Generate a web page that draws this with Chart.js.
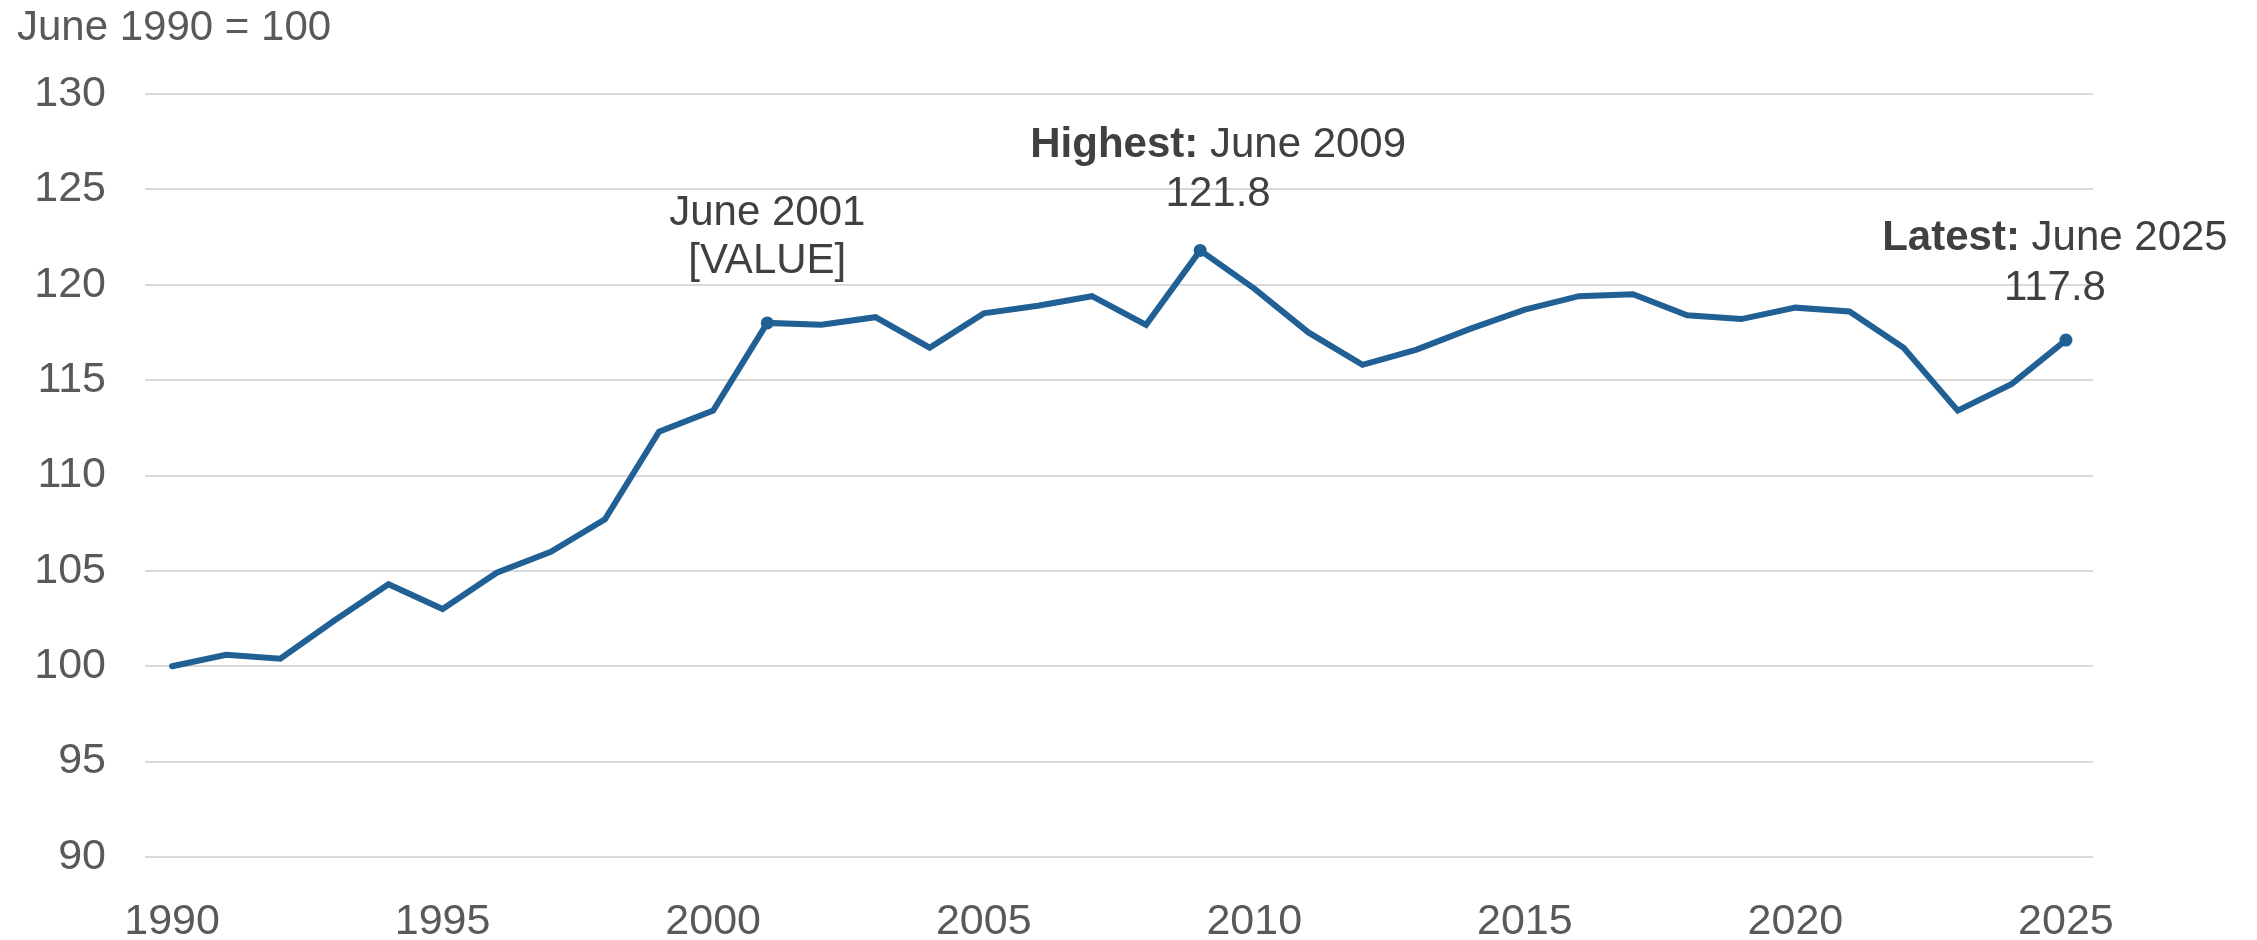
<!DOCTYPE html>
<html>
<head>
<meta charset="utf-8">
<title>Index, June 1990 = 100</title>
<script src="https://cdn.jsdelivr.net/npm/chart.js@4/dist/chart.umd.min.js"></script>
<style>
  html, body { margin: 0; padding: 0; background: #fff; }
  #wrap { position: relative; width: 2257px; height: 940px; }
</style>
</head>
<body>
<div id="wrap"><canvas id="indexChart"></canvas></div>
<script>
// data
const years = [
  "1990", "1991", "1992", "1993", "1994", "1995", "1996", "1997", "1998", "1999",
  "2000", "2001", "2002", "2003", "2004", "2005", "2006", "2007", "2008", "2009",
  "2010", "2011", "2012", "2013", "2014", "2015", "2016", "2017", "2018", "2019",
  "2020", "2021", "2022", "2023", "2024", "2025"
];
const indexValues = [
  100.0, 100.6, 100.4, 102.4, 104.3, 103.0, 104.9, 106.0, 107.7, 112.3,
  113.4, 118.0, 117.9, 118.3, 116.7, 118.5, 118.9, 119.4, 117.9, 121.8,
  119.8, 117.5, 115.8, 116.6, 117.7, 118.7, 119.4, 119.5, 118.4, 118.2,
  118.8, 118.6, 116.7, 113.4, 114.8, 117.1
];
const yTicks = [90, 95, 100, 105, 110, 115, 120, 125, 130];
const xLabelYears = ["1990", "1995", "2000", "2005", "2010", "2015", "2020", "2025"];

const axisTitle = "June 1990 = 100";
const markedYears = ["2001", "2009", "2025"];
const calloutBold = ["", "Highest:", "Latest:"];
const calloutDate = ["June 2001", "June 2009", "June 2025"];
const calloutValue = ["[VALUE]", "121.8", "117.8"];

// where each callout sits relative to its point
const calloutOffsets = [
  { dx: 0, line1: -98, line2: -50 },
  { dx: 18, line1: -93, line2: -44 },
  { dx: -11, line1: -90, line2: -40 }
];

const FONT = "'Liberation Sans', Arial, sans-serif";
const lineBlue = "#206095";

const calloutPlugin = {
  id: "callouts",
  afterDatasetsDraw(chart) {
    const ctx = chart.ctx;
    const meta = chart.getDatasetMeta(0);
    ctx.save();

    ctx.fillStyle = "#595959";
    ctx.font = `42px ${FONT}`;
    ctx.textAlign = "left";
    ctx.textBaseline = "alphabetic";
    ctx.fillText(axisTitle, 17, 40);

    ctx.fillStyle = "#404040";
    markedYears.forEach((yr, i) => {
      const pt = meta.data[years.indexOf(yr)];
      const off = calloutOffsets[i];
      const cx = pt.x + off.dx;

      ctx.font = `bold 42px ${FONT}`;
      const boldText = calloutBold[i] ? calloutBold[i] + " " : "";
      const bw = boldText ? ctx.measureText(boldText).width : 0;
      ctx.font = `42px ${FONT}`;
      const dw = ctx.measureText(calloutDate[i]).width;
      let x = cx - (bw + dw) / 2;
      ctx.textAlign = "left";
      if (boldText) {
        ctx.font = `bold 42px ${FONT}`;
        ctx.fillText(boldText, x, pt.y + off.line1);
        x += bw;
      }
      ctx.font = `42px ${FONT}`;
      ctx.fillText(calloutDate[i], x, pt.y + off.line1);

      ctx.textAlign = "center";
      ctx.fillText(calloutValue[i], cx, pt.y + off.line2);
    });
    ctx.restore();
  }
};

const ctx = document.getElementById("indexChart").getContext("2d");

new Chart(ctx, {
  type: "line",
  data: {
    labels: years,
    datasets: [{
      data: indexValues,
      borderColor: lineBlue,
      backgroundColor: lineBlue,
      borderWidth: 6,
      borderCapStyle: "round",
      borderJoinStyle: "miter",
      tension: 0,
      pointRadius: c => markedYears.includes(years[c.dataIndex]) ? 6.5 : 0,
      pointHoverRadius: 0,
      pointBorderWidth: 0
    }]
  },
  options: {
    responsive: true,
    maintainAspectRatio: false,
    animation: false,
    layout: { padding: { top: 94, right: 164, bottom: 0, left: 0 } },
    plugins: {
      legend: { display: false },
      tooltip: { enabled: false }
    },
    scales: {
      x: {
        type: "category",
        offset: true,
        afterFit: scale => { scale.height = 83; },
        grid: { display: false, drawTicks: false },
        border: { display: false },
        ticks: {
          autoSkip: false,
          maxRotation: 0,
          padding: 39,
          color: "#595959",
          font: { family: FONT, size: 43 },
          callback: function (value) {
            const lab = this.getLabelForValue(value);
            return xLabelYears.includes(lab) ? lab : "";
          }
        }
      },
      y: {
        min: yTicks[0],
        max: yTicks[yTicks.length - 1],
        afterFit: scale => { scale.width = 145; },
        afterBuildTicks: scale => { scale.ticks = yTicks.map(v => ({ value: v })); },
        grid: { color: "#d9d9d9", lineWidth: 2, drawTicks: false },
        border: { display: false },
        ticks: {
          padding: 39,
          color: "#595959",
          font: { family: FONT, size: 43 }
        }
      }
    }
  },
  plugins: [calloutPlugin]
});
</script>
</body>
</html>
